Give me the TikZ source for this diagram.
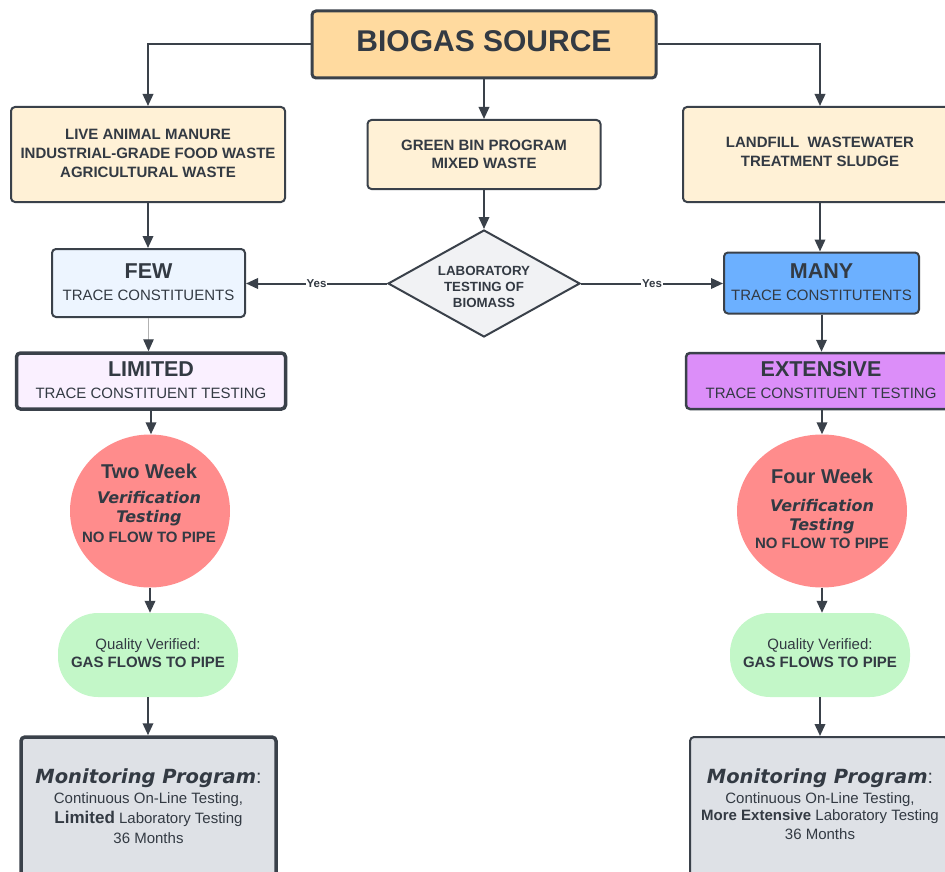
\documentclass[tikz,border=0pt]{standalone}
\usepackage{fontspec}
\setmainfont{Liberation Sans}
\newfontfamily\dvs{DejaVu Sans}
\usetikzlibrary{shapes.geometric,arrows.meta}
\definecolor{edge}{HTML}{3A414A}
\definecolor{txtc}{HTML}{333A43}
\definecolor{biofill}{HTML}{FFDA9F}
\definecolor{srcfill}{HTML}{FFF1D6}
\definecolor{fewfill}{HTML}{EDF5FF}
\definecolor{diafill}{HTML}{F1F2F4}
\definecolor{manyfill}{HTML}{6CB0FF}
\definecolor{limfill}{HTML}{FAF0FF}
\definecolor{extfill}{HTML}{DC8EF9}
\definecolor{redfill}{HTML}{FF8C8C}
\definecolor{greenfill}{HTML}{C3F7C8}
\definecolor{grayfill}{HTML}{DEE1E6}
\newcommand\fsz[1]{\fontsize{#1}{#1}\selectfont}
\newcommand\dvbi{\dvs\bfseries\itshape}
\begin{document}
\begin{tikzpicture}[x=1pt,y=-1pt,
  box/.style={draw=edge, rounded corners=4pt, line width=2pt, inner sep=0pt},
  tl/.style={anchor=base, inner sep=0pt, text=txtc},
  conn/.style={draw=edge, line width=2pt, -{Triangle[length=12pt,width=10.5pt]}},
  yeslab/.style={fill=white, inner sep=0.6pt, text=txtc, font=\bfseries\fsz{11.5}},
  circ/.style={ellipse, fill=redfill, inner sep=0pt},
  pill/.style={fill=greenfill, rounded corners=40pt, inner sep=0pt, minimum width=180pt, minimum height=84pt}
]
\useasboundingbox (0,0) rectangle (945,872);
\clip (0,0) rectangle (945,872);

% boxes
\node[box, fill=biofill, line width=3pt, minimum width=344pt, minimum height=67pt] (bio) at (484,44.5) {};
\node[box, fill=srcfill, minimum width=274pt, minimum height=95pt] (src1) at (148,154.5) {};
\node[box, fill=srcfill, minimum width=233pt, minimum height=69pt] (src2) at (484,154.5) {};
\node[box, fill=srcfill, minimum width=274pt, minimum height=95pt] (src3) at (820,154.5) {};
\node[box, fill=fewfill, minimum width=193pt, minimum height=68pt] (few) at (148.5,283) {};
\node[diamond, draw=edge, fill=diafill, line width=2pt, inner sep=0pt, minimum width=192pt, minimum height=107pt] (dia) at (484,283.5) {};
\node[box, fill=manyfill, minimum width=195pt, minimum height=61pt] (many) at (821.5,283) {};
\node[box, fill=limfill, line width=3.5pt, minimum width=269pt, minimum height=56pt] (lim) at (151,381) {};
\node[box, fill=extfill, line width=2.5pt, minimum width=272pt, minimum height=56pt] (ext) at (822,381) {};
\node[circ, minimum width=160pt, minimum height=153pt] (c1) at (150,511) {};
\node[circ, minimum width=170pt, minimum height=153pt] (c2) at (822,511) {};
\node[pill] (p1) at (148,655) {};
\node[pill] (p2) at (820,655) {};
\node[box, fill=grayfill, line width=3.5pt, minimum width=255pt, minimum height=160pt] (m1) at (148.5,817) {};
\node[box, fill=grayfill, line width=2pt, minimum width=258pt, minimum height=160pt] (m2) at (819,817) {};

% connectors
\draw[conn] (bio.west) -| (src1.north);
\draw[conn] (bio.south) -- (src2.north);
\draw[conn] (bio.east) -| (src3.north);
\draw[conn] (src1.south) -- (src1.south |- few.north);
\draw[conn] (src2.south) -- (dia.north);
\draw[conn] (src3.south) -- (src3.south |- many.north);
\draw[conn] (dia.west) -- node[yeslab] (yes1) {Yes} (dia.west -| few.east);
\draw[conn] (dia.east) -- node[yeslab] (yes2) {Yes} (dia.east -| many.west);
\draw[draw=gray!60, line width=1.2pt, -{Triangle[length=12pt,width=10.5pt,color=edge]}] (few.south) -- (few.south |- lim.north);
\draw[conn] (many.south) -- (many.south |- ext.north);
\draw[conn] (lim.south) -- (lim.south |- c1.north);
\draw[conn] (ext.south) -- (ext.south |- c2.north);
\draw[conn] (c1.south) -- (c1.south |- p1.north);
\draw[conn] (c2.south) -- (c2.south |- p2.north);
\draw[conn] (p1.south) -- (p1.south |- m1.north);
\draw[conn] (p2.south) -- (p2.south |- m2.north);

% texts
\node[tl, font=\bfseries\fsz{30}] (tbio) at (484,52) {BIOGAS SOURCE};

\node[tl, font=\bfseries\fsz{15}] (ts1a) at (148,140) {LIVE ANIMAL MANURE};
\node[tl, font=\bfseries\fsz{15}] (ts1b) at (148,158.5) {INDUSTRIAL-GRADE FOOD WASTE};
\node[tl, font=\bfseries\fsz{15}] (ts1c) at (148,177) {AGRICULTURAL WASTE};

\node[tl, font=\bfseries\fsz{15}] (ts2a) at (484,150) {GREEN BIN PROGRAM};
\node[tl, font=\bfseries\fsz{15}] (ts2b) at (484,168) {MIXED WASTE};

\node[tl, font=\bfseries\fsz{15}] (ts3a) at (820,148) {LANDFILL\ \ WASTEWATER};
\node[tl, font=\bfseries\fsz{15}] (ts3b) at (820,166) {TREATMENT SLUDGE};

\node[tl, font=\bfseries\fsz{21.5}] (tfa) at (148.5,278) {FEW};
\node[tl, font=\fsz{15}] (tfb) at (148.5,300) {TRACE CONSTITUENTS};

\node[tl, font=\bfseries\fsz{13.3}] (tda) at (484,275) {LABORATORY};
\node[tl, font=\bfseries\fsz{13.3}] (tdb) at (484,291) {TESTING OF};
\node[tl, font=\bfseries\fsz{13.3}] (tdc) at (484,307) {BIOMASS};

\node[tl, font=\bfseries\fsz{21.5}] (tma) at (821.5,278) {MANY};
\node[tl, font=\fsz{15}] (tmb) at (821.5,300) {TRACE CONSTITUTENTS};

\node[tl, font=\bfseries\fsz{21.5}] (tla) at (151,376) {LIMITED};
\node[tl, font=\fsz{15}] (tlb) at (151,398) {TRACE CONSTITUENT TESTING};

\node[tl, font=\bfseries\fsz{21.5}] (tea) at (821,376) {EXTENSIVE};
\node[tl, font=\fsz{15}] (teb) at (821,398) {TRACE CONSTITUENT TESTING};

\node[tl, font=\bfseries\fsz{20}] (tc1a) at (149,478) {Two Week};
\node[tl, font=\dvbi\fsz{16}] (tc1b) at (149,503) {Verification};
\node[tl, font=\dvbi\fsz{16}] (tc1c) at (149,522) {Testing};
\node[tl, font=\bfseries\fsz{15}] (tc1d) at (149,542) {NO FLOW TO PIPE};

\node[tl, font=\bfseries\fsz{20}] (tc2a) at (822,483) {Four Week};
\node[tl, font=\dvbi\fsz{16}] (tc2b) at (822,511) {Verification};
\node[tl, font=\dvbi\fsz{16}] (tc2c) at (822,530) {Testing};
\node[tl, font=\bfseries\fsz{15}] (tc2d) at (822,548) {NO FLOW TO PIPE};

\node[tl, font=\fsz{15}] (tp1a) at (148,649) {Quality Verified:};
\node[tl, font=\bfseries\fsz{15}] (tp1b) at (148,667) {GAS FLOWS TO PIPE};
\node[tl, font=\fsz{15}] (tp2a) at (820,649) {Quality Verified:};
\node[tl, font=\bfseries\fsz{15}] (tp2b) at (820,667) {GAS FLOWS TO PIPE};

\node[tl, font=\fsz{19.5}] (tm1a) at (148.5,783) {{\dvbi Monitoring Program}:};
\node[tl, font=\fsz{15}] (tm1b) at (148.5,803) {Continuous On-Line Testing,};
\node[tl, font=\fsz{15}] (tm1c) at (148.5,823) {{\bfseries\fsz{17}Limited} Laboratory Testing};
\node[tl, font=\fsz{15}] (tm1d) at (148.5,843) {36 Months};

\node[tl, font=\fsz{19.5}] (tm2a) at (820,783) {{\dvbi Monitoring Program}:};
\node[tl, font=\fsz{15}] (tm2b) at (820,803) {Continuous On-Line Testing,};
\node[tl, font=\fsz{15}] (tm2c) at (820,820) {{\bfseries More Extensive} Laboratory Testing};
\node[tl, font=\fsz{15}] (tm2d) at (820,839) {36 Months};
\end{tikzpicture}
\end{document}
